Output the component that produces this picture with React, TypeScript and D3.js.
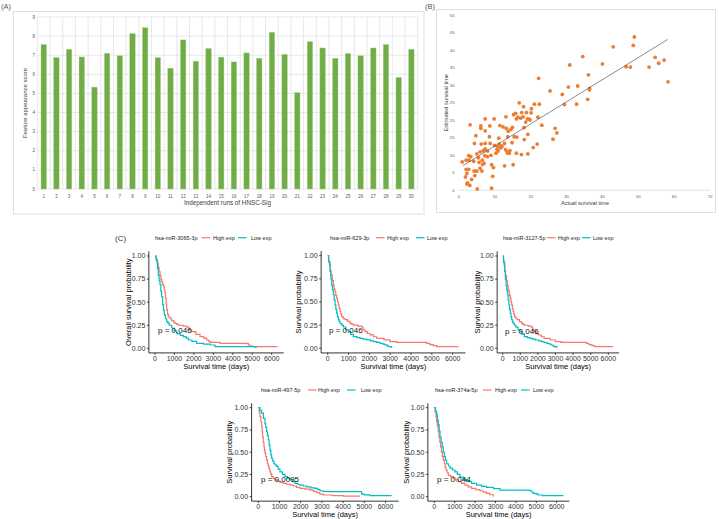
import React from 'react';
import * as d3 from 'd3';

const FONT = '"Liberation Sans", Arial, sans-serif';

// ---------- Panel A data ----------
const barCategories = ['1','2','3','4','5','6','7','8','9','10','11','12','13','14','15','16','17','18','19','20','21','22','23','24','25','26','27','28','29','30'];
const barValues = [7.56,6.88,7.31,6.91,5.33,7.10,6.97,8.13,8.44,6.88,6.32,7.80,6.69,7.35,6.90,6.65,7.12,6.84,8.20,7.04,5.04,7.71,7.38,6.84,7.09,6.97,7.38,7.56,5.84,7.31];
const barTicks = [0,1,2,3,4,5,6,7,8,9];

// ---------- Panel B data ----------
const scatterX = [0.9,3.1,2.0,2.7,2.8,2.0,2.7,2.2,1.8,2.4,2.2,3.0,3.5,3.3,4.3,4.7,4.1,4.6,4.2,5.0,4.4,5.1,5.0,5.4,5.6,5.9,6.2,5.9,6.4,6.1,6.1,6.5,6.6,6.8,7.0,7.2,7.3,7.3,7.3,7.3,8.0,7.9,8.5,8.6,8.7,8.9,9.1,9.1,9.4,9.6,9.8,9.9,10.3,10.6,10.9,10.8,11.2,11.1,11.4,11.6,11.8,12.0,12.3,12.7,12.7,13.0,13.1,13.2,13.4,13.6,13.6,13.7,14.0,14.2,14.5,14.9,14.8,15.1,15.2,15.4,15.8,16.0,16.0,16.1,16.4,16.8,17.2,17.4,17.5,17.9,18.0,18.1,18.2,18.6,18.8,19.1,19.2,19.2,19.6,19.8,20.1,20.2,20.7,21.0,21.8,22.0,22.2,22.4,23.1,25.4,26.2,26.8,27.3,28.8,29.4,30.5,30.9,32.8,33.1,34.5,35.9,36.1,36.4,36.4,40.0,43.0,46.6,47.8,48.6,48.9,53.0,54.7,55.7,57.2,58.3];
const scatterY = [8.1,18.7,8.6,9.9,8.6,6.0,6.0,4.8,3.8,2.1,1.8,1.4,3.1,9.6,13.4,15.6,8.3,5.5,5.5,5.5,4.2,0.4,10.4,9.3,8.0,11.0,13.2,6.3,5.5,17.7,18.4,8.6,7.4,11.3,7.7,9.9,20.4,17.0,13.4,11.8,11.2,9.6,15.3,18.4,13.4,10.0,7.3,0.6,4.0,6.5,20.4,12.8,10.6,11.7,11.2,12.5,13.2,14.9,18.5,12.1,12.7,12.5,18.1,13.4,7.0,11.6,21.0,17.7,11.0,10.6,15.3,16.9,10.6,11.3,17.4,18.0,13.6,7.3,21.6,15.3,22.0,10.6,20.4,15.2,20.9,25.0,20.6,10.2,22.2,21.0,23.9,17.9,14.5,19.5,22.2,20.4,16.0,10.4,20.3,20.1,22.1,23.3,12.2,24.6,13.2,20.9,32.0,24.6,18.6,28.4,14.6,17.7,16.4,27.4,24.5,29.5,35.8,24.6,29.8,38.2,26.0,33.0,28.7,29.1,36.1,41.0,35.3,35.2,41.4,43.8,35.2,38.0,36.3,37.2,31.0];
const trendX = [1.1, 58.2];
const trendY = [7.05, 43.1];
const scatterXTicks = [0,10,20,30,40,50,60,70];
const scatterYTicks = [0,5,10,15,20,25,30,35,40,45,50];

// ---------- Panel C data (Kaplan-Meier step points: [days, survival]) ----------
const km1High: [number, number][] = [[0,1],[60,0.96],[120,0.92],[170,0.88],[210,0.83],[257,0.79],[300,0.75],[343,0.72],[390,0.69],[429,0.67],[480,0.63],[514,0.60],[540,0.54],[570,0.48],[600,0.42],[640,0.37],[686,0.34],[780,0.32],[858,0.30],[960,0.28],[1029,0.27],[1120,0.26],[1200,0.25],[1450,0.24],[1630,0.23],[1750,0.20],[1887,0.18],[2100,0.15],[2316,0.126],[2500,0.11],[2659,0.09],[2760,0.075],[2830,0.065],[3345,0.054],[4800,0.036],[4890,0.025],[5060,0.018],[6300,0.018]];
const km1Low: [number, number][] = [[0,1],[50,0.97],[86,0.94],[130,0.86],[171,0.79],[215,0.73],[257,0.69],[300,0.62],[343,0.56],[394,0.47],[440,0.41],[480,0.36],[540,0.32],[600,0.29],[670,0.27],[737,0.25],[858,0.22],[980,0.19],[1115,0.16],[1300,0.14],[1458,0.126],[1600,0.11],[1715,0.09],[1900,0.075],[2144,0.054],[2500,0.045],[2830,0.036],[3087,0.018],[4974,0.018],[5197,0.007],[5200,0.007]];
const km2High: [number, number][] = [[0,1],[40,0.95],[80,0.90],[120,0.84],[160,0.79],[220,0.73],[272,0.68],[310,0.64],[352,0.61],[390,0.57],[432,0.54],[470,0.50],[512,0.47],[550,0.43],[592,0.40],[630,0.37],[672,0.34],[750,0.32],[832,0.31],[950,0.29],[1072,0.27],[1150,0.26],[1232,0.25],[1450,0.24],[1632,0.23],[1700,0.20],[1792,0.18],[1900,0.16],[2032,0.144],[2200,0.125],[2352,0.108],[2700,0.09],[2992,0.072],[3312,0.065],[4752,0.054],[4900,0.04],[5072,0.029],[5232,0.018],[6272,0.018]];
const km2Low: [number, number][] = [[0,1],[50,0.93],[112,0.83],[150,0.75],[192,0.68],[230,0.63],[272,0.58],[310,0.52],[352,0.47],[390,0.42],[432,0.38],[470,0.34],[512,0.31],[550,0.29],[592,0.27],[670,0.25],[752,0.23],[870,0.20],[992,0.18],[1100,0.15],[1232,0.126],[1400,0.115],[1552,0.108],[1700,0.10],[1872,0.09],[2050,0.08],[2192,0.072],[2350,0.063],[2512,0.054],[2650,0.045],[2752,0.036],[2850,0.027],[2912,0.018],[3072,0.009],[3080,0.009]];
const km4High: [number, number][] = [[0,1],[40,0.95],[79,0.90],[120,0.84],[157,0.79],[180,0.73],[204,0.67],[235,0.61],[267,0.56],[290,0.52],[314,0.49],[350,0.45],[393,0.41],[430,0.37],[472,0.34],[510,0.31],[550,0.28],[590,0.25],[629,0.225],[700,0.205],[786,0.19],[900,0.175],[1022,0.16],[1180,0.15],[1336,0.14],[1500,0.13],[1651,0.12],[1800,0.105],[1965,0.094],[2200,0.085],[2437,0.075],[2600,0.06],[2752,0.045],[2900,0.03],[3066,0.019],[3500,0.012],[4000,0.007],[4796,0.007]];
const km4Low: [number, number][] = [[0,1],[80,0.97],[157,0.94],[240,0.88],[314,0.82],[350,0.78],[393,0.73],[430,0.69],[472,0.64],[510,0.58],[550,0.52],[590,0.47],[629,0.43],[680,0.40],[739,0.37],[800,0.355],[865,0.34],[940,0.31],[1022,0.28],[1140,0.25],[1258,0.225],[1380,0.205],[1494,0.19],[1610,0.17],[1730,0.15],[1850,0.14],[1965,0.13],[2120,0.12],[2280,0.11],[2480,0.10],[2673,0.094],[2800,0.08],[2909,0.067],[3050,0.06],[3223,0.056],[4874,0.03],[5000,0.02],[5267,0.011],[6289,0.011]];
const km5High: [number, number][] = [[0,1],[40,0.95],[82,0.90],[115,0.84],[147,0.79],[190,0.73],[229,0.67],[270,0.61],[310,0.56],[350,0.50],[392,0.45],[440,0.41],[490,0.37],[530,0.33],[572,0.30],[630,0.27],[686,0.24],[800,0.225],[931,0.21],[1050,0.19],[1176,0.17],[1340,0.15],[1503,0.13],[1660,0.11],[1830,0.094],[2030,0.08],[2239,0.067],[2400,0.052],[2565,0.037],[2730,0.022],[2892,0.007],[2900,0.007]];
const km5Low: [number, number][] = [[0,1],[60,0.96],[114,0.92],[155,0.86],[196,0.81],[240,0.74],[278,0.67],[335,0.61],[392,0.56],[440,0.50],[490,0.45],[545,0.41],[605,0.37],[690,0.345],[768,0.32],[890,0.30],[1013,0.28],[1130,0.25],[1258,0.22],[1420,0.195],[1585,0.17],[1830,0.15],[2075,0.13],[2320,0.115],[2565,0.105],[2900,0.09],[3219,0.075],[4690,0.067],[4780,0.05],[4853,0.037],[5000,0.028],[5098,0.019],[5300,0.011],[6324,0.011]];

const kmTitles = ['hsa-miR-3065-3p','hsa-miR-629-3p','hsa-miR-3127-5p','hsa-miR-497-5p','hsa-miR-374a-5p'];
const kmYTitles = ['Overall survival probability','Survival probability','Survival probability','Survival probability','Survival probability'];
const kmPValues = ['p = 0.046','p = 0.046','p = 0.046','p = 0.0095','p = 0.044'];
const kmSeries = [[km1High, km1Low],[km2High, km2Low],[km2High, km2Low],[km4High, km4Low],[km5High, km5Low]];
const kmXTicks = [0,1000,2000,3000,4000,5000,6000];
const kmYTicks = [0,0.25,0.5,0.75,1];
const legendLabels = ['High exp','Low exp'];

// layout (pixel positions only)
const kmLayout = [
  { x0: 155, x6: 271.7, yt: 256, yb: 348.3, legX: 155, legY: 237.7, leg: [46.7, 58, 83, 96], ytX: 128, xtY: 366, pX: 158, pY: 330 },
  { x0: 327.7, x6: 452.7, yt: 255.7, yb: 348.3, legX: 330, legY: 237.7, leg: [46, 57, 86, 97], ytX: 298.3, xtY: 366, pX: 329, pY: 330 },
  { x0: 502.7, x6: 608.3, yt: 256, yb: 348.3, legX: 503, legY: 237.7, leg: [44, 55, 79, 90], ytX: 477.3, xtY: 366, pX: 505, pY: 331 },
  { x0: 258.3, x6: 385.5, yt: 407.7, yb: 496.7, legX: 261, legY: 390, leg: [47, 57, 86, 100], ytX: 229.3, xtY: 514, pX: 261, pY: 479 },
  { x0: 434.3, x6: 556.7, yt: 407.7, yb: 496.7, legX: 435, legY: 390, leg: [48, 60, 86, 98], ytX: 406.7, xtY: 514, pX: 437, pY: 479 },
];

const RED = '#F8766D';
const CYAN = '#00BFC4';

function KMPlot({ i }: { i: number }) {
  const L = kmLayout[i];
  const [high, low] = kmSeries[i];
  const x = d3.scaleLinear().domain([0, 6000]).range([L.x0, L.x6]);
  const y = d3.scaleLinear().domain([0, 1]).range([L.yb, L.yt]);
  const line = d3.line<[number, number]>().x(d => x(d[0])).y(d => y(d[1])).curve(d3.curveStepAfter);
  const axL = x(-315), axR = x(6615), axB = y(-0.05), axT = y(1.05);
  const fmt = d3.format('.2f');
  return (
    <g>
      {/* legend */}
      <g fontSize={5.5} fill="#222">
        <text x={L.legX} y={L.legY + 2}>{kmTitles[i]}</text>
        <line x1={L.legX + L.leg[0]} x2={L.legX + L.leg[0] + 8.5} y1={L.legY} y2={L.legY} stroke={RED} strokeWidth={1.2} />
        <text x={L.legX + L.leg[1]} y={L.legY + 2}>{legendLabels[0]}</text>
        <line x1={L.legX + L.leg[2]} x2={L.legX + L.leg[2] + 8.5} y1={L.legY} y2={L.legY} stroke={CYAN} strokeWidth={1.2} />
        <text x={L.legX + L.leg[3]} y={L.legY + 2}>{legendLabels[1]}</text>
      </g>
      {/* axes */}
      <line x1={axL} x2={axL} y1={axT} y2={axB} stroke="#000" strokeWidth={0.8} />
      <line x1={axL} x2={axR} y1={axB} y2={axB} stroke="#000" strokeWidth={0.8} />
      {kmYTicks.map(t => (
        <g key={'y' + t}>
          <line x1={axL - 2} x2={axL} y1={y(t)} y2={y(t)} stroke="#000" strokeWidth={0.7} />
          <text x={axL - 3.5} y={y(t) + 2.4} fontSize={7} textAnchor="end" fill="#333">{fmt(t)}</text>
        </g>
      ))}
      {kmXTicks.map(t => (
        <g key={'x' + t}>
          <line x1={x(t)} x2={x(t)} y1={axB} y2={axB + 2} stroke="#000" strokeWidth={0.7} />
          <text x={x(t)} y={axB + 8.3} fontSize={7} textAnchor="middle" fill="#333">{t}</text>
        </g>
      ))}
      {/* curves */}
      <path d={line(high) || ''} fill="none" stroke={RED} strokeWidth={1.2} />
      <path d={line(low) || ''} fill="none" stroke={CYAN} strokeWidth={1.2} />
      <text x={L.pX} y={L.pY + 3} fontSize={8} fill="#111">{kmPValues[i]}</text>
      {/* titles */}
      <text transform={`translate(${L.ytX},${(axT + axB) / 2}) rotate(-90)`} fontSize={7.5} textAnchor="middle" dy="0.35em" fill="#000">{kmYTitles[i]}</text>
      <text x={(axL + axR) / 2} y={L.xtY + 2.7} fontSize={7.5} textAnchor="middle" fill="#000">Survival time (days)</text>
    </g>
  );
}

export default function App() {
  // Panel A scales
  const xA = d3.scaleBand<string>().domain(barCategories).range([37.4, 417.7]).padding(0);
  const yA = d3.scaleLinear().domain([0, 9]).range([189, 17]);
  const bw = xA.bandwidth();
  // Panel B scales
  const xB = d3.scaleLinear().domain([0, 70]).range([459, 710]);
  const yB = d3.scaleLinear().domain([0, 50]).range([190.3, 15.3]);

  return (
    <svg width={719} height={519} style={{ position: 'absolute', left: 0, top: 0, fontFamily: FONT, background: '#fff' }}>
      <rect width={719} height={519} fill="#fff" />
      {/* ---------- Panel A ---------- */}
      <text x={1} y={8.5} fontSize={7.5} fill="#555">(A)</text>
      <rect x={13.5} y={11.5} width={410.5} height={202.5} fill="#fff" stroke="#d9d9d9" strokeWidth={0.8} />
      {barTicks.map(t => (
        <g key={'ga' + t}>
          <line x1={37.4} x2={417.7} y1={yA(t)} y2={yA(t)} stroke="#d9d9d9" strokeWidth={0.6} />
          <text x={35} y={yA(t) + 1.6} fontSize={4.5} textAnchor="end" fill="#595959">{t}</text>
        </g>
      ))}
      {barCategories.map(c => (
        <line key={'va' + c} x1={(xA(c) as number) + bw} x2={(xA(c) as number) + bw} y1={yA(9)} y2={yA(0)} stroke="#d9d9d9" strokeWidth={0.6} />
      ))}
      <line x1={37.4} x2={37.4} y1={yA(9)} y2={yA(0)} stroke="#d9d9d9" strokeWidth={0.6} />
      {barCategories.map((c, i) => (
        <rect key={'b' + c} x={(xA(c) as number) + bw * 0.285} width={bw * 0.43} y={yA(barValues[i])} height={yA(0) - yA(barValues[i])} fill="#70AD47" stroke="#A9D18E" strokeWidth={0.4} />
      ))}
      {barCategories.map(c => (
        <text key={'xl' + c} x={(xA(c) as number) + bw / 2} y={197.6} fontSize={4.5} textAnchor="middle" fill="#595959">{c}</text>
      ))}
      <text transform={`translate(24.5,${(yA(0) + yA(9)) / 2}) rotate(-90)`} fontSize={6} textAnchor="middle" dy="0.35em" fill="#404040">Feature appearance score</text>
      <text x={227.5} y={205.3} fontSize={6.3} textAnchor="middle" fill="#404040">Independent runs of HNSC-Sig</text>

      {/* ---------- Panel B ---------- */}
      <text x={425} y={8.5} fontSize={7.5} fill="#555">(B)</text>
      <rect x={436.5} y={9.5} width={279} height={203} fill="#fff" stroke="#d9d9d9" strokeWidth={0.8} />
      <line x1={459} x2={710} y1={yB(0)} y2={yB(0)} stroke="#d9d9d9" strokeWidth={0.7} />
      {scatterYTicks.map(t => (
        <text key={'yb' + t} x={454.5} y={yB(t) + 1.5} fontSize={4.2} textAnchor="end" fill="#595959">{t}</text>
      ))}
      {scatterXTicks.map(t => (
        <text key={'xb' + t} x={xB(t)} y={198.3} fontSize={4.2} textAnchor="middle" fill="#595959">{t}</text>
      ))}
      {scatterX.map((v, i) => (
        <circle key={'p' + i} cx={xB(v)} cy={yB(scatterY[i])} r={1.9} fill="#ED7D31" />
      ))}
      <line x1={xB(trendX[0])} y1={yB(trendY[0])} x2={xB(trendX[1])} y2={yB(trendY[1])} stroke="#595959" strokeWidth={0.7} />
      <text transform={`translate(446,${(yB(0) + yB(50)) / 2}) rotate(-90)`} fontSize={5.6} textAnchor="middle" dy="0.35em" fill="#404040">Estimated survival time</text>
      <text x={585} y={205} fontSize={5.6} textAnchor="middle" fill="#404040">Actual survival time</text>

      {/* ---------- Panel C ---------- */}
      <text x={115} y={240.5} fontSize={8} fill="#333">(C)</text>
      {kmLayout.map((_, i) => <KMPlot key={'km' + i} i={i} />)}
    </svg>
  );
}
